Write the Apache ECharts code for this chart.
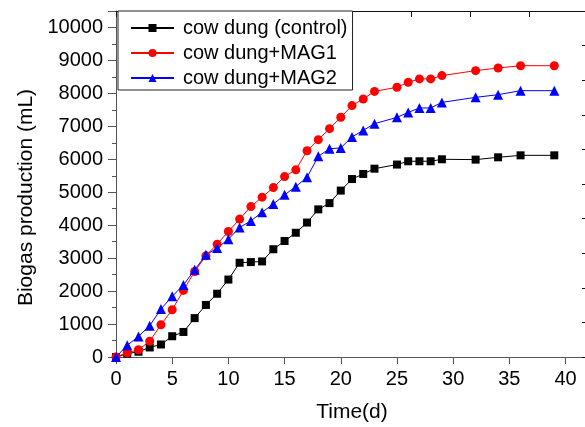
<!DOCTYPE html>
<html>
<head>
<meta charset="utf-8">
<title>Biogas production</title>
<script src="https://cdn.jsdelivr.net/npm/echarts@6/dist/echarts.min.js"></script>
<style>
  html, body { margin: 0; padding: 0; background: #fff; }
  #chart { width: 585px; height: 427px; }
</style>
</head>
<body>
<div id="chart"></div>
<script>
const days = [0, 1, 2, 3, 4, 5, 6, 7, 8, 9, 10, 11, 12, 13, 14, 15, 16, 17, 18, 19, 20, 21, 22, 23, 25, 26, 27, 28, 29, 32, 34, 36, 39];
const control = [0, 100, 160, 290, 380, 630, 760, 1180, 1580, 1920, 2350, 2860, 2880, 2900, 3270, 3520, 3770, 4080, 4480, 4670, 5050, 5400, 5555, 5715, 5840, 5940, 5940, 5940, 6000, 5990, 6060, 6120, 6120];
const mag1 = [0, 130, 220, 480, 980, 1435, 2020, 2595, 3070, 3425, 3810, 4185, 4565, 4850, 5140, 5475, 5680, 6260, 6595, 6930, 7275, 7630, 7830, 8060, 8185, 8335, 8440, 8440, 8540, 8690, 8770, 8840, 8840];
const mag2 = [0, 355, 625, 950, 1455, 1840, 2185, 2645, 3100, 3305, 3575, 3930, 4130, 4395, 4640, 4920, 5170, 5455, 6090, 6320, 6345, 6680, 6877, 7080, 7272, 7423, 7557, 7557, 7727, 7880, 7960, 8082, 8082];
const seriesNames = ['cow dung (control)', 'cow dung+MAG1', 'cow dung+MAG2'];

const font = '"Liberation Sans", Arial, sans-serif';
const chart = echarts.init(document.getElementById('chart'));

function pares(valores) {
    return days.map((d, i) => [d, valores[i]]);
}

chart.setOption({
    animation: false,
    textStyle: { fontFamily: font },
    grid: { left: 116, top: 11, right: -3, bottom: 70, containLabel: false, outerBoundsMode: 'none' },
    legend: {
        orient: 'vertical',
        left: 118,
        top: 11,
        padding: [7, 5, 2, 12],
        itemGap: 5,
        itemWidth: 43,
        itemHeight: 10,
        borderColor: '#222',
        borderWidth: 1,
        borderRadius: 0,
        backgroundColor: '#fff',
        textStyle: { fontSize: 20, color: '#000', fontFamily: font, lineHeight: 20, padding: [0, 0, 0, 4] },
        data: seriesNames
    },
    xAxis: [
        {
            type: 'value',
            min: 0,
            max: 42,
            interval: 5,
            name: 'Time(d)',
            nameLocation: 'middle',
            nameGap: 45,
            nameTextStyle: { fontSize: 21, color: '#000', fontFamily: font },
            axisLine: { onZero: false, lineStyle: { color: '#555', width: 1 } },
            axisTick: { inside: false, length: 7, lineStyle: { color: '#555' } },
            axisLabel: {
                fontSize: 20, color: '#000', margin: 12, fontFamily: font,
                formatter: v => (v % 5 === 0 ? String(v) : '')
            },
            splitLine: { show: false }
        },
        {
            type: 'value',
            position: 'top',
            min: 0,
            max: 40,
            interval: 5,
            axisLine: { onZero: false, lineStyle: { color: '#111', width: 1 } },
            axisTick: { inside: true, length: 6, lineStyle: { color: '#111' } },
            axisLabel: { show: false },
            splitLine: { show: false }
        }
    ],
    yAxis: [
        {
            type: 'value',
            min: 0,
            max: 10500,
            interval: 1000,
            name: 'Biogas production (mL)',
            nameLocation: 'middle',
            nameGap: 78,
            nameTextStyle: { fontSize: 21, color: '#000', fontFamily: font, padding: [0, 27, 0, 0] },
            axisLine: { onZero: false, lineStyle: { color: '#555', width: 1 } },
            axisTick: { inside: false, length: 8, lineStyle: { color: '#555' } },
            minorTick: { show: true, splitNumber: 2, length: 4, lineStyle: { color: '#555' } },
            axisLabel: {
                fontSize: 20, color: '#000', margin: 13, fontFamily: font,
                formatter: v => (v % 1000 === 0 ? String(v) : '')
            },
            splitLine: { show: false },
            minorSplitLine: { show: false }
        },
        {
            type: 'value',
            position: 'right',
            min: 0,
            max: 10000,
            interval: 1000,
            axisLine: { onZero: false, lineStyle: { color: '#111', width: 1 } },
            axisTick: { inside: true, length: 6, lineStyle: { color: '#111' } },
            axisLabel: { show: false },
            splitLine: { show: false }
        }
    ],
    series: [
        {
            name: seriesNames[0],
            type: 'line',
            data: pares(control),
            symbol: 'rect',
            symbolSize: 8,
            lineStyle: { color: '#000', width: 1 },
            itemStyle: { color: '#000' }
        },
        {
            name: seriesNames[1],
            type: 'line',
            data: pares(mag1),
            symbol: 'circle',
            symbolSize: 9,
            lineStyle: { color: '#ff0000', width: 1 },
            itemStyle: { color: '#ff0000' }
        },
        {
            name: seriesNames[2],
            type: 'line',
            data: pares(mag2),
            symbol: 'triangle',
            symbolSize: 10,
            lineStyle: { color: '#0000ff', width: 1 },
            itemStyle: { color: '#0000ff' }
        }
    ]
});
</script>
</body>
</html>
